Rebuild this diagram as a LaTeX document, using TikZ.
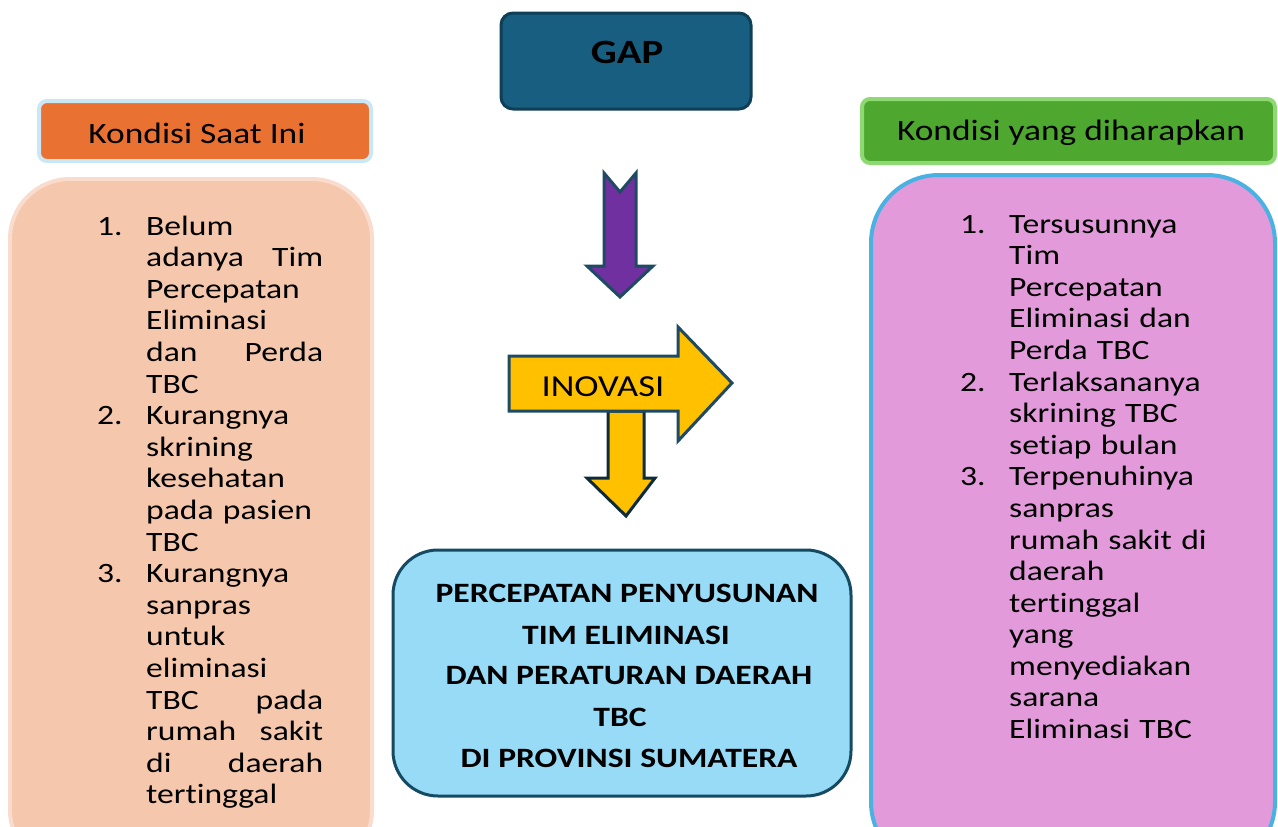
\documentclass[tikz,border=0pt]{standalone}
\usepackage{fontspec}
\setmainfont{Carlito}[FakeStretch=1.2, Ligatures=NoCommon]
\definecolor{gapfill}{HTML}{175E80}
\definecolor{gapline}{HTML}{0E3F56}
\definecolor{orangefill}{HTML}{E97132}
\definecolor{orangeline}{HTML}{C9E7F5}
\definecolor{greenfill}{HTML}{4EA72E}
\definecolor{greenline}{HTML}{8ED973}
\definecolor{leftfill}{HTML}{F5C7AC}
\definecolor{leftline}{HTML}{F9DCCD}
\definecolor{rightfill}{HTML}{E39ADB}
\definecolor{rightline}{HTML}{4AB1E3}
\definecolor{purplefill}{HTML}{7030A0}
\definecolor{arrowline}{HTML}{1E4B63}
\definecolor{arrowdark}{HTML}{0D2B3A}
\definecolor{yellowfill}{HTML}{FFC000}
\definecolor{bottomfill}{HTML}{97DBF7}
\definecolor{bottomline}{HTML}{154A63}
\newcommand\numln[2]{\makebox[49pt][l]{#1}#2\par}
\newcommand\contln[1]{\hspace*{49pt}#1\par}
\newcommand\justln[2]{\hspace*{49pt}\makebox[177pt][l]{#1\hfill#2}\par}
\tikzset{
  listtext/.style={anchor=base west, inner sep=0pt, text width=320pt,
    font=\fontsize{28}{31.6}\selectfont},
  headtext/.style={inner sep=0pt, font=\fontsize{29.5}{34}\selectfont},
  bigtext/.style={inner sep=0pt, font=\bfseries\fontsize{28}{32}\selectfont},
}
\begin{document}
\begin{tikzpicture}[x=1pt,y=-1pt,line join=miter]
\useasboundingbox (0,0) rectangle (1278,827);
\clip (0,0) rectangle (1278,827);

% GAP box
\draw[fill=gapfill, draw=gapline, line width=3pt, rounded corners=12pt] (501,13) rectangle (751,109);
\node[bigtext, font=\bfseries\fontsize{34}{40}\selectfont] (gap) at (627,52) {GAP};

% headers
\draw[fill=orangefill, draw=orangeline, line width=4pt, rounded corners=8pt] (39,101) rectangle (371,161);
\node[headtext] (kondisi) at (197,133) {Kondisi Saat Ini};
\draw[fill=greenfill, draw=greenline, line width=4pt, rounded corners=8pt] (862,99) rectangle (1275,163);
\node[headtext] (harap) at (1071,133) {Kondisi yang diharapkan};

% big boxes
\draw[fill=leftfill, draw=leftline, line width=4pt, rounded corners=60pt] (10,179) rectangle (372,870);
\draw[fill=rightfill, draw=rightline, line width=4pt, rounded corners=68pt] (871,175) rectangle (1275,870);

% left list
\node[listtext] (leftlist) at (97,235) {%
\numln{1.}{Belum}
\justln{adanya}{Tim}
\contln{Percepatan}
\contln{Eliminasi}
\justln{dan}{Perda}
\contln{TBC}
\numln{2.}{Kurangnya}
\contln{skrining}
\contln{kesehatan}
\contln{pada pasien}
\contln{TBC}
\numln{3.}{Kurangnya}
\contln{sanpras}
\contln{untuk}
\contln{eliminasi}
\justln{TBC}{pada}
\justln{rumah}{sakit}
\justln{di}{daerah}
\contln{tertinggal}};

% right list
\node[listtext] (rightlist) at (960,233) {%
\numln{1.}{Tersusunnya}
\contln{Tim}
\contln{Percepatan}
\contln{Eliminasi dan}
\contln{Perda TBC}
\numln{2.}{Terlaksananya}
\contln{skrining TBC}
\contln{setiap bulan}
\numln{3.}{Terpenuhinya}
\contln{sanpras}
\contln{rumah sakit di}
\contln{daerah}
\contln{tertinggal}
\contln{yang}
\contln{menyediakan}
\contln{sarana}
\contln{Eliminasi TBC}};

% purple arrow
\draw[fill=purplefill, draw=arrowline, line width=3pt]
  (604,173) -- (620,192) -- (636,173) -- (636,266) -- (653,266) -- (620,297)
  -- (587,266) -- (604,266) -- cycle;

% yellow down arrow
\draw[fill=yellowfill, draw=arrowdark, line width=3pt]
  (608,411) -- (644,411) -- (644,478) -- (655,478) -- (626,516) -- (587,478)
  -- (608,478) -- cycle;
% yellow right arrow
\draw[fill=yellowfill, draw=arrowline, line width=3pt]
  (509,356) -- (678,356) -- (678,327) -- (732,383) -- (678,441) -- (678,411)
  -- (509,411) -- cycle;
\node[headtext, font=\fontsize{30.5}{34}\selectfont] (inovasi) at (603,387) {INOVASI};

% bottom box
\draw[fill=bottomfill, draw=bottomline, line width=3pt, rounded corners=45pt] (393,550) rectangle (851,796);
\node[bigtext] (b1) at (627,593) {PERCEPATAN PENYUSUNAN};
\node[bigtext] (b2) at (626,635) {TIM ELIMINASI};
\node[bigtext] (b3) at (629,676) {DAN PERATURAN DAERAH};
\node[bigtext] (b4) at (620,717) {TBC};
\node[bigtext] (b5) at (629,758) {DI PROVINSI SUMATERA};
\end{tikzpicture}
\end{document}
